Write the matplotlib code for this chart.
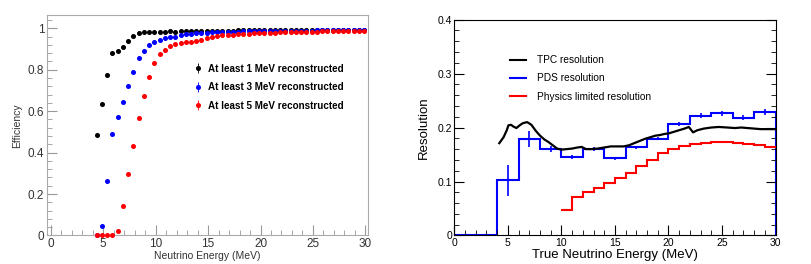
import matplotlib
matplotlib.use("Agg")
import matplotlib.pyplot as plt
import numpy as np
from matplotlib.ticker import MultipleLocator, FormatStrFormatter

plt.rcParams['font.family'] = ['Liberation Sans', 'DejaVu Sans']

# ---- left panel: reconstruction efficiency ----
eff_x = 4.375 + 0.5 * np.arange(52)
eff_1mev = [0.484, 0.635, 0.774, 0.879, 0.892, 0.908, 0.939, 0.963, 0.977, 0.981,
            0.984, 0.984, 0.982, 0.984, 0.986, 0.984, 0.985, 0.986, 0.986, 0.987,
            0.987, 0.988, 0.988, 0.988,
            0.989, 0.989, 0.989, 0.990, 0.990, 0.990, 0.990, 0.991, 0.991, 0.991,
            0.991, 0.991, 0.992, 0.992, 0.992, 0.992, 0.992, 0.992, 0.993, 0.993,
            0.993, 0.993, 0.993, 0.993, 0.993, 0.994, 0.994, 0.994]
eff_3mev = [0.0, 0.044, 0.265, 0.489, 0.574, 0.645, 0.721, 0.787, 0.855, 0.890,
            0.919, 0.934, 0.945, 0.953, 0.960, 0.960, 0.966, 0.972, 0.974, 0.975,
            0.977, 0.978, 0.980, 0.981,
            0.982, 0.983, 0.983, 0.984, 0.985, 0.985, 0.986, 0.986, 0.987, 0.987,
            0.987, 0.988, 0.988, 0.988, 0.989, 0.989, 0.989, 0.989, 0.990, 0.990,
            0.990, 0.990, 0.991, 0.991, 0.991, 0.991, 0.991, 0.992]
eff_5mev = [0.0, 0.0, 0.0, 0.0, 0.024, 0.140, 0.295, 0.431, 0.568, 0.671,
            0.766, 0.832, 0.874, 0.895, 0.915, 0.922, 0.928, 0.934, 0.935, 0.938,
            0.945, 0.953, 0.958, 0.963,
            0.966, 0.968, 0.970, 0.971, 0.973, 0.974, 0.975, 0.976, 0.977, 0.978,
            0.979, 0.980, 0.980, 0.981, 0.982, 0.982, 0.983, 0.984, 0.984, 0.985,
            0.985, 0.986, 0.986, 0.987, 0.987, 0.988, 0.988, 0.989]
eff_err = 0.004
eff_labels = ["At least 1 MeV reconstructed", "At least 3 MeV reconstructed",
              "At least 5 MeV reconstructed"]

# ---- right panel: energy resolution ----
pds_edges = np.arange(0, 31, 2)
pds_res = [0.0, 0.0, 0.102, 0.178, 0.160, 0.146, 0.160, 0.143, 0.163, 0.179,
           0.207, 0.222, 0.226, 0.218, 0.229]
pds_err = [0.0, 0.0, 0.029, 0.015, 0.006, 0.004, 0.004, 0.003, 0.003, 0.003,
           0.004, 0.004, 0.004, 0.005, 0.006]

phys_edges = np.arange(10, 31, 1)
phys_res = [0.047, 0.071, 0.081, 0.088, 0.098, 0.107, 0.116, 0.128, 0.140, 0.152,
            0.160, 0.166, 0.170, 0.172, 0.173, 0.173, 0.172, 0.170, 0.167, 0.163]

tpc_x = [4.2, 4.6, 4.9, 5.05, 5.3, 5.5, 5.8, 6.1, 6.4, 6.8, 7.2, 7.6, 8.0, 8.4, 8.8,
         9.2, 9.6, 10.0, 10.5, 11.0, 11.5, 11.9, 12.3, 12.8, 13.4, 14.0, 14.6, 15.2,
         15.8, 16.3, 16.8, 17.3, 17.8, 18.3, 18.8, 19.2, 19.6, 20.0, 20.5, 21.0, 21.5,
         21.9, 22.3, 22.7, 23.3, 24.0, 24.7, 25.5, 26.2, 26.8, 27.4, 28.0, 28.6, 29.3,
         30.0]
tpc_res = [0.171, 0.182, 0.195, 0.204, 0.205, 0.202, 0.199, 0.204, 0.208, 0.210,
           0.205, 0.194, 0.185, 0.178, 0.173, 0.167, 0.161, 0.159, 0.160, 0.161,
           0.163, 0.164, 0.160, 0.160, 0.161, 0.163, 0.165, 0.165, 0.165, 0.167,
           0.171, 0.175, 0.179, 0.182, 0.185, 0.186, 0.188, 0.189, 0.192, 0.195,
           0.198, 0.201, 0.191, 0.195, 0.198, 0.200, 0.201, 0.200, 0.199, 0.200,
           0.199, 0.198, 0.197, 0.197, 0.197]

fig = plt.figure(figsize=(8.12, 2.64), dpi=100)

# left
ax1 = fig.add_axes([0.0579, 0.108, 0.3947, 0.835])
for y, c, lab in zip([eff_1mev, eff_3mev, eff_5mev], ['black', 'blue', 'red'], eff_labels):
    ax1.errorbar(eff_x, y, yerr=eff_err, fmt='o', color=c, ms=2.6, elinewidth=0.6,
                 capsize=0, label=lab, clip_on=False, zorder=3)
ax1.set_xlim(-0.35, 30.2)
ax1.set_ylim(0, 1.064)
ax1.xaxis.set_major_locator(MultipleLocator(5))
ax1.xaxis.set_minor_locator(MultipleLocator(1))
ax1.yaxis.set_major_locator(MultipleLocator(0.2))
ax1.yaxis.set_minor_locator(MultipleLocator(0.04))
ax1.yaxis.set_major_formatter(FormatStrFormatter('%g'))
ax1.tick_params(which='both', direction='in', color='#999999', labelsize=8.5,
                labelcolor='#333333', top=False, right=False)
ax1.tick_params(which='major', length=7, pad=2)
ax1.tick_params(which='minor', length=3.5)
for s in ax1.spines.values():
    s.set_color('#aaaaaa')
ax1.set_xlabel("Neutrino Energy (MeV)", fontsize=7.5, color='#333333', labelpad=0.5)
ax1.set_ylabel("Efficiency", fontsize=7.5, color='#333333', labelpad=4)
ax1.legend(loc='center left', bbox_to_anchor=(0.459, 0.673), frameon=False,
           prop={'size': 7.1, 'weight': 'bold'}, handlelength=0.8,
           handletextpad=0.6, labelspacing=0.85, borderpad=0, borderaxespad=0)

# right
ax2 = fig.add_axes([0.5595, 0.108, 0.3956, 0.818])
ax2.stairs(pds_res, pds_edges, color='blue', lw=1.5)
pds_centers = 0.5 * (pds_edges[:-1] + pds_edges[1:])
ax2.errorbar(pds_centers, pds_res, yerr=pds_err, fmt='none', ecolor='blue',
             elinewidth=1.2, capsize=0)
ax2.stairs(phys_res, phys_edges, color='red', lw=1.5, baseline=None)
ax2.plot(tpc_x, tpc_res, color='black', lw=1.6)
ax2.set_xlim(0, 30)
ax2.set_ylim(0, 0.4)
ax2.xaxis.set_major_locator(MultipleLocator(5))
ax2.xaxis.set_minor_locator(MultipleLocator(1))
ax2.yaxis.set_major_locator(MultipleLocator(0.1))
ax2.yaxis.set_minor_locator(MultipleLocator(0.02))
ax2.yaxis.set_major_formatter(FormatStrFormatter('%g'))
ax2.tick_params(which='both', direction='in', labelsize=7.5, top=False, right=True)
ax2.tick_params(which='major', length=7, pad=1.5)
ax2.tick_params(which='minor', length=3.5)
ax2.set_xlabel("True Neutrino Energy (MeV)", fontsize=9.5, labelpad=1)
ax2.set_ylabel("Resolution", fontsize=9.5, labelpad=6)
ax2.legend([plt.Line2D([], [], color=c, lw=1.5) for c in ['black', 'blue', 'red']],
           ['TPC resolution', 'PDS resolution', 'Physics limited resolution'],
           loc='center left', bbox_to_anchor=(0.173, 0.727),
           frameon=False, fontsize=7.3, handlelength=1.55, handletextpad=1.1,
           labelspacing=0.8, borderpad=0, borderaxespad=0)

fig.savefig("out.png", dpi=100)
